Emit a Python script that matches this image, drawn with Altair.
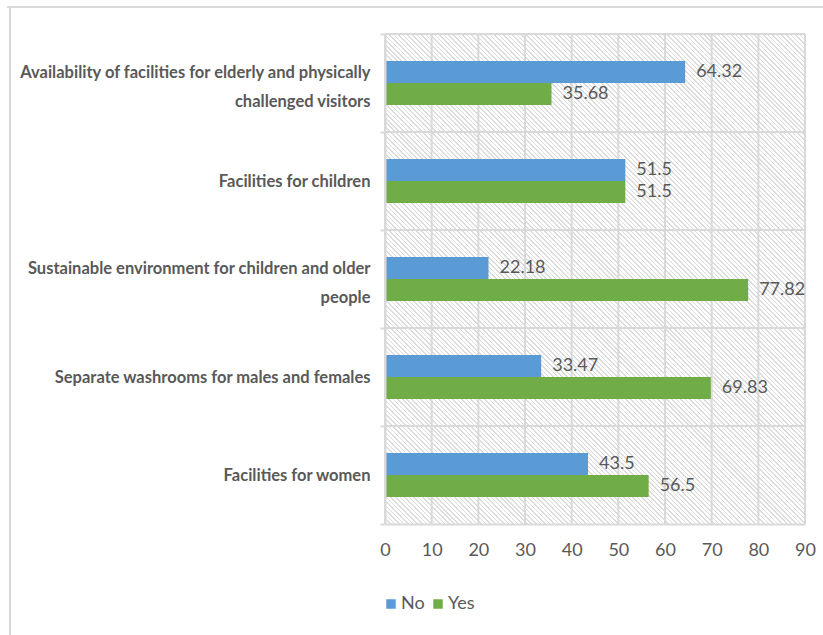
import altair as alt
import pandas as pd

categories = [
    "Availability of facilities for elderly and physically challenged visitors",
    "Facilities for children",
    "Sustainable environment for children and older people",
    "Separate washrooms for males and females",
    "Facilities for women",
]
series = ["No", "Yes"]
no_values = [64.32, 51.5, 22.18, 33.47, 43.5]
yes_values = [35.68, 51.5, 77.82, 69.83, 56.5]
x_ticks = [0, 10, 20, 30, 40, 50, 60, 70, 80, 90]
colors = ["#5b9bd5", "#70ad47"]

rows = []
for c, n, y in zip(categories, no_values, yes_values):
    rows.append({"category": c, "series": "No", "value": n, "label": f"{n:g}"})
    rows.append({"category": c, "series": "Yes", "value": y, "label": f"{y:g}"})
df = pd.DataFrame(rows)

W, H = 420, 490
FONT = "Liberation Sans Narrow, Lato, sans-serif"
TXT = "#595959"
GRID = "#d9d9d9"

xscale = alt.Scale(domain=[0, 90], nice=False, zero=True)
yscale = alt.Scale(domain=categories, paddingInner=0, paddingOuter=0)
off_scale = alt.Scale(domain=series, range=[27, 71], paddingInner=0, paddingOuter=0)

# hatch pattern made of a striped linear gradient
period = 0.0046
stops = []
k = 0
while k * period < 1:
    a = k * period
    b = min(a + period * 0.35, 1.0)
    c = min(a + period, 1.0)
    stops += [
        {"offset": round(a, 5), "color": "#dcdcdc"},
        {"offset": round(b, 5), "color": "#dcdcdc"},
        {"offset": round(b, 5), "color": "#ffffff"},
        {"offset": round(c, 5), "color": "#ffffff"},
    ]
    k += 1
hatch = {"gradient": "linear", "x1": 0, "y1": 1, "x2": 1, "y2": 1 - H / W, "stops": stops}

xaxis = alt.Axis(
    values=x_ticks, grid=False, ticks=False, domain=True, domainColor=GRID, domainWidth=2,
    labelFont=FONT, labelFontSize=18, labelColor=TXT, labelPadding=17, labelFlush=False,
    title=None, zindex=1,
)
wrapped = "indexof(datum.label, 'physically') >= 0 || indexof(datum.label, 'older') >= 0"
yaxis = alt.Axis(
    title=None, grid=False, ticks=True, tickBand="extent", tickSize=5, tickColor=GRID, tickWidth=2,
    domain=True, domainColor=GRID, domainWidth=2, labelFont=FONT, labelFontSize=16.5,
    labelFontWeight="bold", labelColor=TXT, labelPadding=10, labelLineHeight=29, labelLimit=400,
    labelOffset={"condition": {"test": wrapped, "value": -11}, "value": 0},
    zindex=1,
    labelExpr="split(replace(replace(datum.label, 'physically ', 'physically|'), 'older ', 'older|'), '|')",
)

bg = alt.Chart(pd.DataFrame({"x0": [0], "x1": [90]})).mark_rect(fill=hatch).encode(
    x=alt.X("x0:Q", scale=xscale, axis=xaxis),
    x2="x1:Q",
    y=alt.value(0),
    y2=alt.value(H),
)

vgrid = alt.Chart(pd.DataFrame({"t": x_ticks})).mark_rule(color=GRID, strokeWidth=2).encode(
    x=alt.X("t:Q", scale=xscale, axis=xaxis),
    y=alt.value(0),
    y2=alt.value(H),
)

hgrid = alt.Chart(pd.DataFrame({"category": categories})).mark_rule(color=GRID, strokeWidth=2).encode(
    y=alt.Y("category:N", scale=yscale, axis=yaxis, bandPosition=0, sort=categories),
    x=alt.value(0),
    x2=alt.value(W),
)

bars = alt.Chart(df).mark_bar().encode(
    x=alt.X("value:Q", scale=xscale, axis=xaxis),
    y=alt.Y("category:N", scale=yscale, axis=yaxis, sort=categories),
    yOffset=alt.YOffset("series:N", scale=off_scale, sort=series),
    color=alt.Color(
        "series:N",
        scale=alt.Scale(domain=series, range=colors),
        legend=alt.Legend(
            title=None, orient="none", legendX=-3, legendY=561, direction="horizontal",
            symbolType="square", symbolSize=90, symbolStrokeWidth=0, labelFont=FONT,
            labelFontSize=18, labelColor=TXT, labelOffset=1, columnPadding=4,
        ),
    ),
)

texts = alt.Chart(df).mark_text(
    align="left", baseline="middle", dx=11, font=FONT, fontSize=18, color=TXT
).encode(
    x=alt.X("value:Q", scale=xscale, axis=xaxis),
    y=alt.Y("category:N", scale=yscale, axis=yaxis, sort=categories),
    yOffset=alt.YOffset("series:N", scale=off_scale, sort=series),
    text="label:N",
)

one = pd.DataFrame({"a": [0]})
border_top = alt.Chart(one).mark_rule(color=GRID, strokeWidth=2).encode(
    x=alt.value(-378), x2=alt.value(445), y=alt.value(-27)
)
border_left = alt.Chart(one).mark_rule(color=GRID, strokeWidth=2).encode(
    x=alt.value(-375), y=alt.value(-27), y2=alt.value(610)
)

chart = alt.layer(bg, vgrid, hgrid, bars, texts, border_top, border_left).properties(
    width=W,
    height=H,
    padding={"left": 385, "top": 34, "right": 18, "bottom": 111},
    autosize=alt.AutoSizeParams(type="none"),
    background="#ffffff",
).configure_view(stroke=None)

chart.save("out.html", embed_options={"renderer": "svg", "actions": False})
